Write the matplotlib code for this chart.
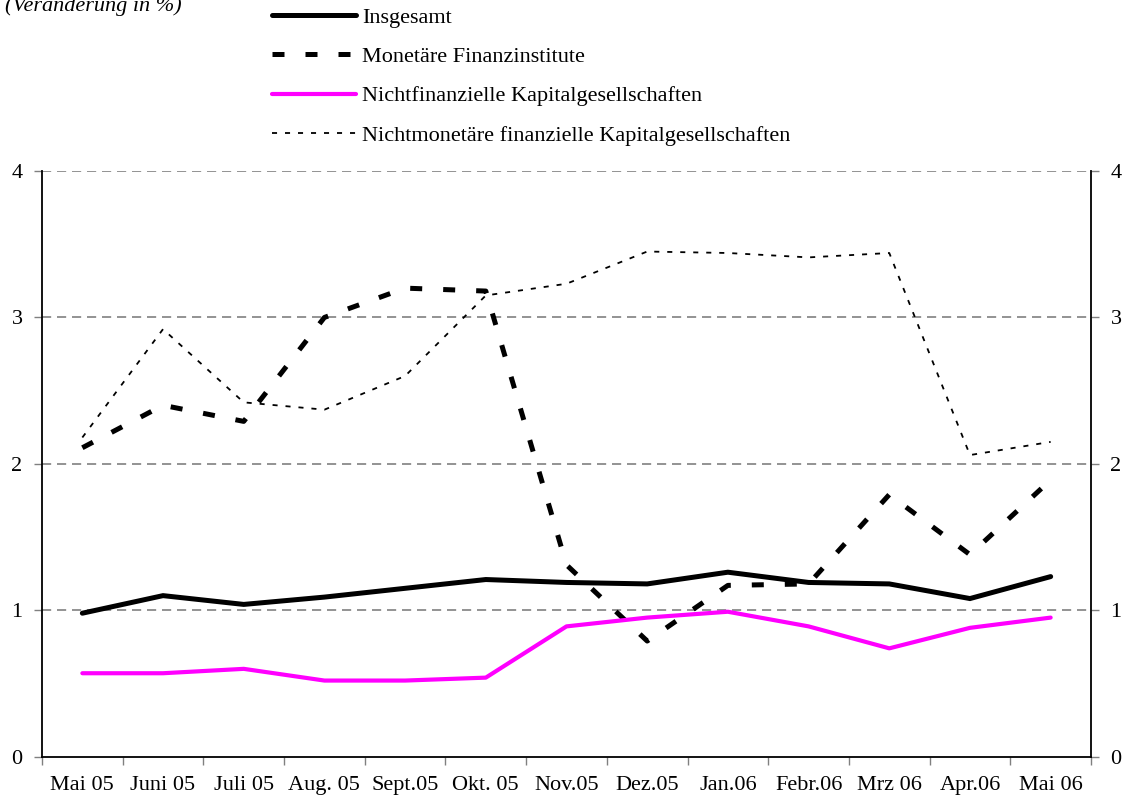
import numpy as np
import matplotlib.pyplot as plt
from matplotlib.ticker import FixedLocator, NullFormatter, FixedFormatter

plt.rcParams['font.family'] = ['Liberation Serif', 'DejaVu Serif']

# Data (Veränderung in %)
months = ['Mai 05', 'Juni 05', 'Juli 05', 'Aug. 05', 'Sept.05', 'Okt. 05', 'Nov.05',
          'Dez.05', 'Jan.06', 'Febr.06', 'Mrz 06', 'Apr.06', 'Mai 06']
insgesamt = [0.98, 1.10, 1.04, 1.09, 1.15, 1.21, 1.19, 1.18, 1.26, 1.19, 1.18, 1.08, 1.23]
monetaer = [2.11, 2.40, 2.29, 3.00, 3.20, 3.18, 1.31, 0.79, 1.17, 1.18, 1.79, 1.38, 1.89]
nichtfinanz = [0.57, 0.57, 0.60, 0.52, 0.52, 0.54, 0.89, 0.95, 0.99, 0.89, 0.74, 0.88, 0.95]
nichtmonetaer = [2.18, 2.92, 2.42, 2.37, 2.60, 3.15, 3.23, 3.45, 3.44, 3.41, 3.44, 2.06, 2.15]
y_ticks = [0, 1, 2, 3, 4]

fig = plt.figure(figsize=(11.3, 8), dpi=100)
ax = fig.add_axes([42 / 1130, 43.3 / 800, 1049 / 1130, 585.7 / 800])

x = np.arange(len(months))

# gridlines
for y in y_ticks[1:]:
    ax.axhline(y, color='#808080', lw=1.2, dashes=(5.5, 3.5), zorder=1)

l1, = ax.plot(x, insgesamt, color='black', lw=3.6, solid_capstyle='round',
              solid_joinstyle='miter', zorder=4, label='Insgesamt')
l2, = ax.plot(x, monetaer, color='black', lw=3.6, dashes=(2.4, 4.2),
              dash_capstyle='butt', zorder=3, label='Monetäre Finanzinstitute')
l3, = ax.plot(x, nichtfinanz, color='#FF00FF', lw=3.0, solid_capstyle='round',
              zorder=4, label='Nichtfinanzielle Kapitalgesellschaften')
l4, = ax.plot(x, nichtmonetaer, color='black', lw=1.3, dashes=(2.8, 4.4),
              zorder=3, label='Nichtmonetäre finanzielle Kapitalgesellschaften')

ax.set_xlim(-0.5, len(months) - 0.5)
ax.set_ylim(0, 4)
ax.set_yticks(y_ticks)
ax.tick_params(axis='y', direction='out', length=6, width=1, color='#808080',
               right=True, labelright=True, labelsize=16, pad=8)

ax.xaxis.set_major_locator(FixedLocator(np.arange(len(months) + 1) - 0.5))
ax.xaxis.set_major_formatter(NullFormatter())
ax.xaxis.set_minor_locator(FixedLocator(x))
ax.xaxis.set_minor_formatter(FixedFormatter(months))
ax.tick_params(axis='x', which='major', direction='out', length=6, width=1, color='#808080')
ax.tick_params(axis='x', which='minor', length=0, labelsize=16, pad=14)

for s in ['left', 'right', 'bottom']:
    ax.spines[s].set_linewidth(1.3)
ax.spines['top'].set_visible(False)

fig.text(0.004, 0.986, '(Veränderung in %)', fontsize=16, style='italic',
         ha='left', va='baseline')

fig.legend(handles=[l1, l2, l3, l4], loc='upper left',
           bbox_to_anchor=(272 / 1130, 1 - 7 / 800), frameon=False,
           fontsize=16, handlelength=3.8, handletextpad=0.27,
           labelspacing=0.85, borderpad=0, borderaxespad=0)

fig.savefig('out.png', dpi=100)
